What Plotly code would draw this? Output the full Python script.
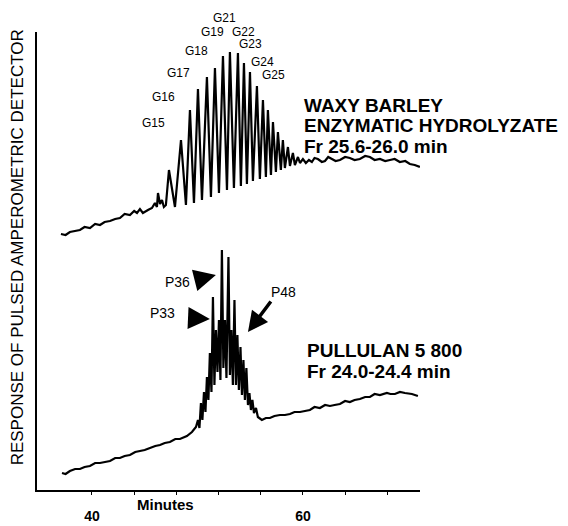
import plotly.graph_objects as go

# ---- data (time in minutes, detector response in arbitrary units) ----
T_UPPER = [37.06, 37.50, 37.91, 38.40, 38.86, 39.30, 39.81, 40.30, 40.76, 41.20,
           41.71, 42.20, 42.65, 43.10, 43.60, 44.00, 44.27, 44.55,
           44.83, 45.31, 45.69, 45.97, 46.16, 46.26, 46.45, 46.64, 46.82, 47.01,
           47.30, 47.87, 48.44, 48.91, 49.29, 49.67, 50.05, 50.43, 50.90, 51.28,
           51.66, 52.04, 52.42, 52.80, 53.08, 53.46, 53.84, 54.12, 54.41, 54.69,
           54.98, 55.26, 55.64, 55.92, 56.21, 56.49, 56.68, 56.97, 57.16, 57.44,
           57.63, 57.91, 58.10, 58.29, 58.58, 58.77, 59.05, 59.24, 59.53, 59.72,
           60.00, 60.28, 60.57, 60.85, 61.10, 61.42, 61.80, 62.09, 62.40, 62.75,
           63.10, 63.51, 64.00, 64.45, 64.90, 65.40, 65.90, 66.35, 66.80, 67.30,
           67.80, 68.25, 68.70, 69.19, 69.70, 70.14, 70.60, 71.09]
R_UPPER = [256, 255, 258, 259, 260, 263, 262, 266, 265, 268,
           269, 271, 272, 276, 275, 279, 277, 281,
           277, 280, 282, 287, 283, 297, 286, 290, 283, 285,
           320, 283, 350, 285, 380, 287, 401, 290, 413, 293,
           422, 297, 434, 300, 438, 302, 437, 304, 427, 306,
           418, 309, 404, 311, 390, 313, 380, 315, 368, 318,
           358, 320, 350, 322, 343, 324, 337, 325, 333, 327,
           331, 327, 330, 328, 332, 331, 328, 329, 333, 331,
           329, 330, 333, 332, 330, 331, 334, 333, 330, 331,
           329, 330, 331, 328, 329, 326, 325, 323]

T_LOWER = [37.16, 37.50, 37.91, 38.40, 38.86, 39.30, 39.81, 40.30, 40.76, 41.20,
           41.71, 42.20, 42.65, 43.10, 43.60, 44.10, 44.55, 45.00, 45.50, 46.00,
           46.45, 46.90, 47.39, 47.90, 48.34, 49.00, 49.48, 49.86, 50.05, 50.19,
           50.33, 50.47, 50.62, 50.76, 50.90, 51.04, 51.18, 51.33, 51.47, 51.61,
           51.75, 51.90, 52.04, 52.18, 52.32, 52.46, 52.61, 52.75, 52.94, 53.08,
           53.22, 53.36, 53.51, 53.65, 53.79, 53.93, 54.08, 54.22, 54.36, 54.50,
           54.64, 54.79, 54.93, 55.07, 55.21, 55.36, 55.55, 55.73, 56.11, 56.49,
           56.87, 57.30, 57.82, 58.30, 58.77, 59.20, 59.72, 60.20, 60.66, 61.10,
           61.61, 62.10, 62.56, 63.00, 63.51, 64.00, 64.45, 64.90, 65.40, 65.90,
           66.35, 66.80, 67.30, 67.96, 68.30, 68.72, 69.20, 69.67, 70.33, 70.90]
R_LOWER = [17, 16, 19, 21, 21, 23, 24, 27, 27, 28,
           29, 32, 32, 34, 35, 38, 39, 40, 42, 44,
           45, 47, 48, 51, 51, 54, 58, 63, 70, 62,
           87, 70, 98, 78, 113, 90, 137, 98, 193, 105,
           160, 118, 170, 110, 240, 122, 170, 112, 233, 115,
           160, 105, 190, 105, 155, 100, 143, 95, 130, 90,
           122, 85, 97, 80, 90, 77, 82, 73, 70, 72,
           72, 74, 75, 75, 76, 78, 78, 79, 80, 83,
           82, 85, 84, 85, 86, 89, 88, 90, 91, 93,
           93, 96, 95, 97, 96, 96, 98, 97, 96, 94]

# peak labels: (text, minutes, response)
G_LABELS = ["G15", "G16", "G17", "G18", "G19", "G21", "G22", "G23", "G24", "G25"]
G_T = [45.88, 46.82, 48.25, 49.95, 51.47, 52.61, 54.41, 55.07, 56.21, 57.25]
G_R = [367, 393, 417, 439, 458, 472, 458, 446, 428, 415]

P_LABELS = ["P36", "P33", "P48"]
P_T = [48.15, 46.73, 58.20]
P_R = [208, 177, 198]
# arrow tips (minutes, response) and tail offsets (px)
ARROW_T = [51.75, 51.18, 54.79]
ARROW_R = [215, 171, 158]
ARROW_AX = [-20, -22, 24]
ARROW_AY = [5, -1, -32]
ARROW_SIZE = [1.25, 1.25, 1.15]

X_TICKS = [40, 44, 48, 52, 56, 60, 64, 68]
X_TICKTEXT = ["<b>40</b>", "", "", "", "", "<b>60</b>", "", ""]

Y_MAX = 458
FONT = "Liberation Sans, Arial, Helvetica, sans-serif"

fig = go.Figure()
fig.add_trace(go.Scatter(x=T_UPPER, y=R_UPPER, mode="lines",
                         line=dict(color="black", width=2.2), hoverinfo="skip"))
fig.add_trace(go.Scatter(x=T_LOWER, y=R_LOWER, mode="lines",
                         line=dict(color="black", width=2.2), hoverinfo="skip"))

ann = []
for s, t, r in zip(G_LABELS, G_T, G_R):
    ann.append(dict(x=t, y=r / Y_MAX, xref="x", yref="paper", text=s, showarrow=False,
                    font=dict(size=12, color="black", family=FONT),
                    xanchor="center", yanchor="middle"))
for s, t, r in zip(P_LABELS, P_T, P_R):
    ann.append(dict(x=t, y=r, xref="x", yref="y", text=s, showarrow=False,
                    font=dict(size=14, color="black", family=FONT),
                    xanchor="center", yanchor="middle"))
for t, r, ax, ay, sz in zip(ARROW_T, ARROW_R, ARROW_AX, ARROW_AY, ARROW_SIZE):
    ann.append(dict(x=t, y=r, xref="x", yref="y", text="", showarrow=True,
                    ax=ax, ay=ay, arrowhead=2, arrowsize=sz, arrowwidth=3.5,
                    arrowcolor="black"))

bold_lines = [("WAXY BARLEY", 59.91, 385), ("ENZYMATIC HYDROLYZATE", 59.91, 365),
              ("Fr 25.6-26.0 min", 59.91, 344),
              ("PULLULAN 5 800", 60.19, 140), ("Fr 24.0-24.4 min", 60.19, 119)]
for s, t, r in bold_lines:
    ann.append(dict(x=t, y=r, xref="x", yref="y", text="<b>" + s + "</b>",
                    showarrow=False, font=dict(size=19, color="black", family=FONT),
                    xanchor="left", yanchor="middle"))

ann.append(dict(x=46.96, y=-15 / Y_MAX, xref="x", yref="paper", text="<b>Minutes</b>",
                showarrow=False, font=dict(size=15, color="black", family=FONT),
                xanchor="center", yanchor="middle"))
ann.append(dict(x=-0.052, y=0.53, xref="paper", yref="paper",
                text="RESPONSE OF PULSED AMPEROMETRIC DETECTOR", textangle=-90,
                showarrow=False, font=dict(size=17, color="black", family=FONT),
                xanchor="center", yanchor="middle"))

fig.update_layout(
    width=568, height=526,
    margin=dict(l=37, r=148, t=32, b=36, autoexpand=False),
    paper_bgcolor="white", plot_bgcolor="white",
    showlegend=False, hovermode=False,
    annotations=ann,
    xaxis=dict(range=[34.79, 71.1], showgrid=False, zeroline=False,
               showline=True, linecolor="black", linewidth=2, automargin=False,
               tickvals=X_TICKS, ticktext=X_TICKTEXT, ticks="outside",
               ticklen=3, tickwidth=1, tickcolor="black",
               ticklabelstandoff=9,
               tickfont=dict(size=14, color="black", family=FONT)),
    yaxis=dict(range=[0, Y_MAX], showgrid=False, zeroline=False, automargin=False,
               showline=True, linecolor="black", linewidth=2,
               showticklabels=False, ticks=""),
)

fig.write_html("out.html")
